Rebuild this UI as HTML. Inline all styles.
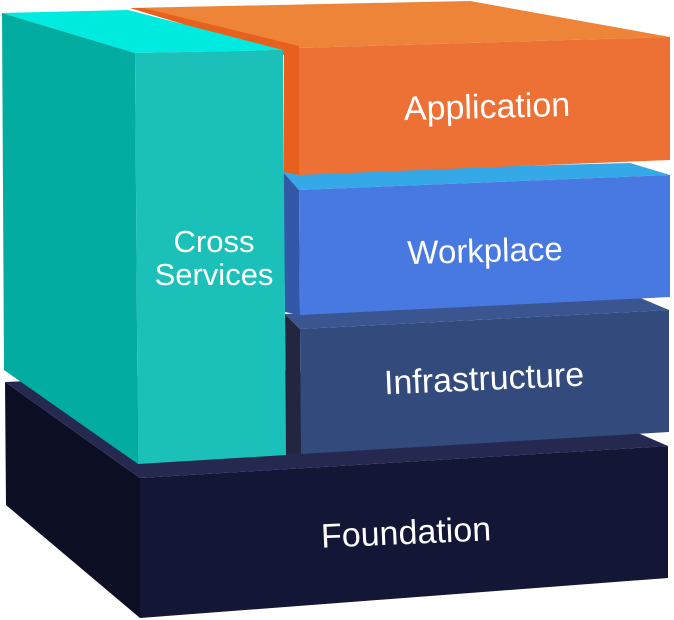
<!DOCTYPE html>
<html><head><meta charset="utf-8"><style>
html,body{margin:0;padding:0;background:#fff;width:674px;height:620px;overflow:hidden}
text{font-family:"Liberation Sans",sans-serif;fill:#fff;text-anchor:middle}
</style></head><body>
<svg width="674" height="620" viewBox="0 0 674 620" xmlns="http://www.w3.org/2000/svg">
<!-- Foundation -->
<polygon points="5,382 140,478 140,618 6,505" fill="#0c0e23"/>
<polygon points="5,382 290,370 638,433 668,446 140,478" fill="#25284f"/>
<polygon points="140,478 668,446 668,578 140,618" fill="#131634"/>
<!-- Infrastructure -->
<polygon points="285,314 300,329 301,454 286,452" fill="#22263f"/>
<polygon points="285,314 638,297 669,310 300,329" fill="#3a558f"/>
<polygon points="300,329 669,310 669,432 301,454" fill="#334a7c"/>
<!-- Workplace -->
<polygon points="283,172 630,163 670,175 299,190" fill="#35a8e8"/>
<polygon points="283,172 299,190 300,315 285,312" fill="#3358a8"/>
<polygon points="299,190 670,175 670,297 300,315" fill="#4879e0"/>
<!-- Application -->
<polygon points="130,8 470,1 670,37 299,48" fill="#ee8438"/>
<polygon points="130,8 143,8 299,46 299,175 284,172 284,55" fill="#e8601e"/>
<polygon points="299,48 670,37 670,160 299,175" fill="#ed7035"/>
<!-- Cross services -->
<polygon points="2,13 128,10 283,50 135,53" fill="#00ebe0"/>
<polygon points="2,13 135,53 138,464 4,370" fill="#02aca1"/>
<polygon points="135,53 283,50 286,455 138,464" fill="#1bc1b9"/>
<!-- labels -->
<text x="214" y="252" font-size="31">Cross</text>
<text x="214" y="285" font-size="31">Services</text>
<text x="487" y="118" font-size="34" transform="rotate(-1.5 487 106)">Application</text>
<text x="485" y="262" font-size="33" transform="rotate(-1.5 485 250)">Workplace</text>
<text x="484" y="390" font-size="34" transform="rotate(-2.5 484 378)">Infrastructure</text>
<text x="406" y="544" font-size="34" transform="rotate(-2.5 406 532)">Foundation</text>
</svg>
</body></html>
